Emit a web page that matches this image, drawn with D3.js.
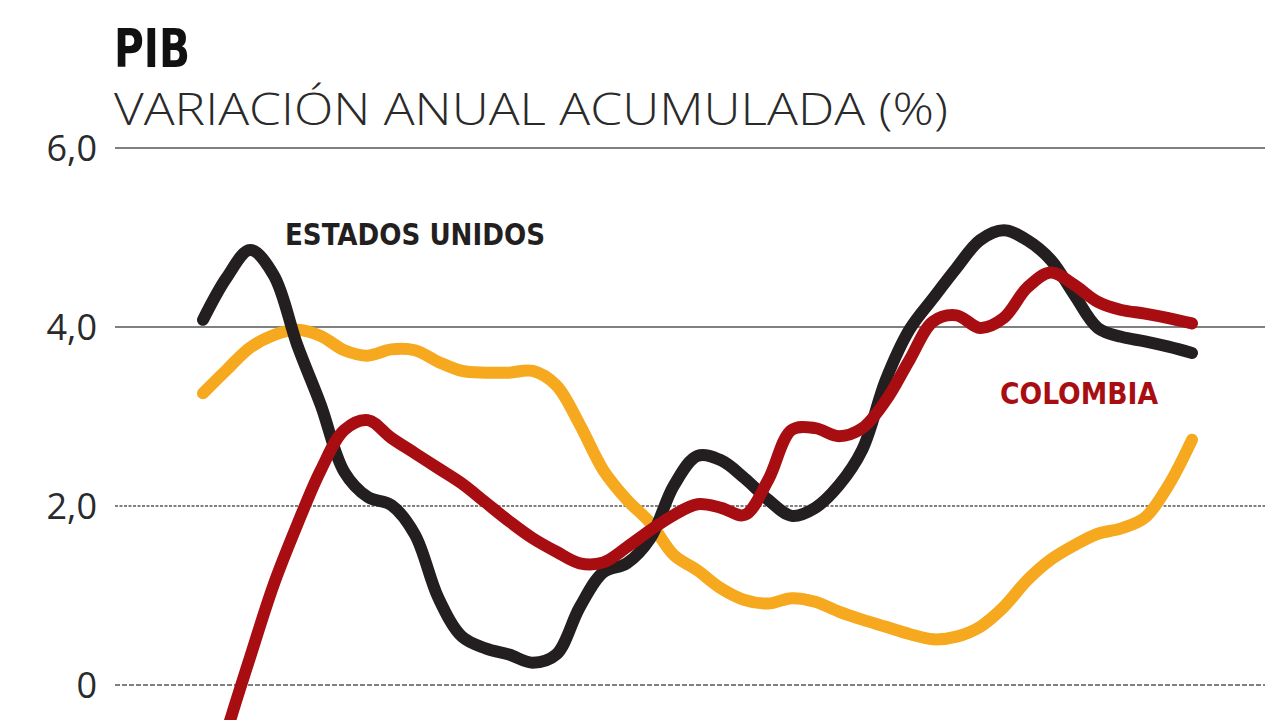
<!DOCTYPE html>
<html><head><meta charset="utf-8">
<script src="https://cdn.jsdelivr.net/npm/d3@7"></script>
<style>html,body{margin:0;padding:0;background:#fff;overflow:hidden}</style>
</head><body>
<svg id="c" width="1280" height="720"></svg>
<script>
const periods = d3.range(43);
const yTicks = [0, 2, 4, 6];
const yTickLabels = ["0", "2,0", "4,0", "6,0"];
const estadosUnidos = [4.08,4.55,4.86,4.58,3.80,3.13,2.38,2.10,2.01,1.68,0.97,0.54,0.41,0.34,0.25,0.34,0.87,1.26,1.36,1.64,2.23,2.56,2.51,2.31,2.07,1.89,1.98,2.23,2.63,3.41,3.97,4.32,4.66,4.97,5.08,4.97,4.75,4.36,3.99,3.89,3.84,3.78,3.71];
const otro = [3.26,3.52,3.77,3.91,3.97,3.90,3.74,3.68,3.75,3.74,3.61,3.51,3.49,3.49,3.51,3.35,2.91,2.40,2.07,1.81,1.45,1.28,1.08,0.95,0.91,0.97,0.93,0.82,0.73,0.65,0.57,0.51,0.54,0.65,0.87,1.17,1.40,1.56,1.69,1.75,1.87,2.23,2.74];
const colombia = [-1.5,-0.53,0.31,1.12,1.79,2.40,2.85,2.96,2.76,2.59,2.42,2.25,2.04,1.83,1.64,1.49,1.36,1.37,1.54,1.73,1.90,2.02,1.98,1.90,2.29,2.85,2.87,2.78,2.87,3.18,3.63,4.06,4.13,3.99,4.10,4.44,4.61,4.47,4.28,4.19,4.15,4.10,4.04];

const svg = d3.select("#c");
const x = d3.scaleLinear().domain([0, periods.length - 1]).range([203, 1192]);
const y = d3.scaleLinear().domain([0, 6]).range([685, 148]);

svg.append("text").attr("x", 114).attr("y", 67).text("PIB")
  .attr("font-family", "'DejaVu Sans Condensed','Liberation Sans Narrow',sans-serif")
  .attr("font-weight", "bold").attr("font-size", 54).attr("fill", "#111")
  .attr("textLength", 76).attr("lengthAdjust", "spacingAndGlyphs");
svg.append("text").attr("x", 114).attr("y", 125).text("VARIACIÓN ANUAL ACUMULADA (%)")
  .attr("font-family", "'Open Sans','Noto Sans',sans-serif")
  .attr("font-weight", 300).attr("font-size", 44).attr("fill", "#2a2a2a")
  .attr("textLength", 834).attr("lengthAdjust", "spacingAndGlyphs");

// grid
const grid = svg.append("g");
yTicks.forEach((t, i) => {
  grid.append("line").attr("x1", 115).attr("x2", 1265)
    .attr("y1", y(t)).attr("y2", y(t))
    .attr("stroke", "#808080").attr("stroke-width", 2.2)
    .attr("stroke-dasharray", t === 0 ? "5,2" : (t === 2 ? "3,1.5" : null));
  grid.append("text").attr("x", 97).attr("y", y(t) + 13)
    .attr("text-anchor", "end").text(yTickLabels[i])
    .attr("font-family", "'Open Sans','Noto Sans',sans-serif")
    .attr("font-size", 36).attr("fill", "#2a2a2a");
});

const line = d3.line().x((d, i) => x(i)).y(d => y(d)).curve(d3.curveCatmullRom.alpha(0.5));
const series = [
  {data: otro, color: "#f6a81e"},
  {data: estadosUnidos, color: "#231f20"},
  {data: colombia, color: "#a80d12"}
];
svg.append("g").selectAll("path").data(series).join("path")
  .attr("d", d => line(d.data)).attr("fill", "none")
  .attr("stroke", d => d.color).attr("stroke-width", 12)
  .attr("stroke-linecap", "round").attr("stroke-linejoin", "round");

svg.append("text").attr("x", 285).attr("y", 245).text("ESTADOS UNIDOS")
  .attr("font-family", "'DejaVu Sans Condensed','Liberation Sans Narrow',sans-serif")
  .attr("font-weight", "bold").attr("font-size", 31).attr("fill", "#231f20")
  .attr("textLength", 260).attr("lengthAdjust", "spacingAndGlyphs");
svg.append("text").attr("x", 1000).attr("y", 404).text("COLOMBIA")
  .attr("font-family", "'DejaVu Sans Condensed','Liberation Sans Narrow',sans-serif")
  .attr("font-weight", "bold").attr("font-size", 31).attr("fill", "#a80d12")
  .attr("textLength", 158).attr("lengthAdjust", "spacingAndGlyphs");
</script>
</body></html>
